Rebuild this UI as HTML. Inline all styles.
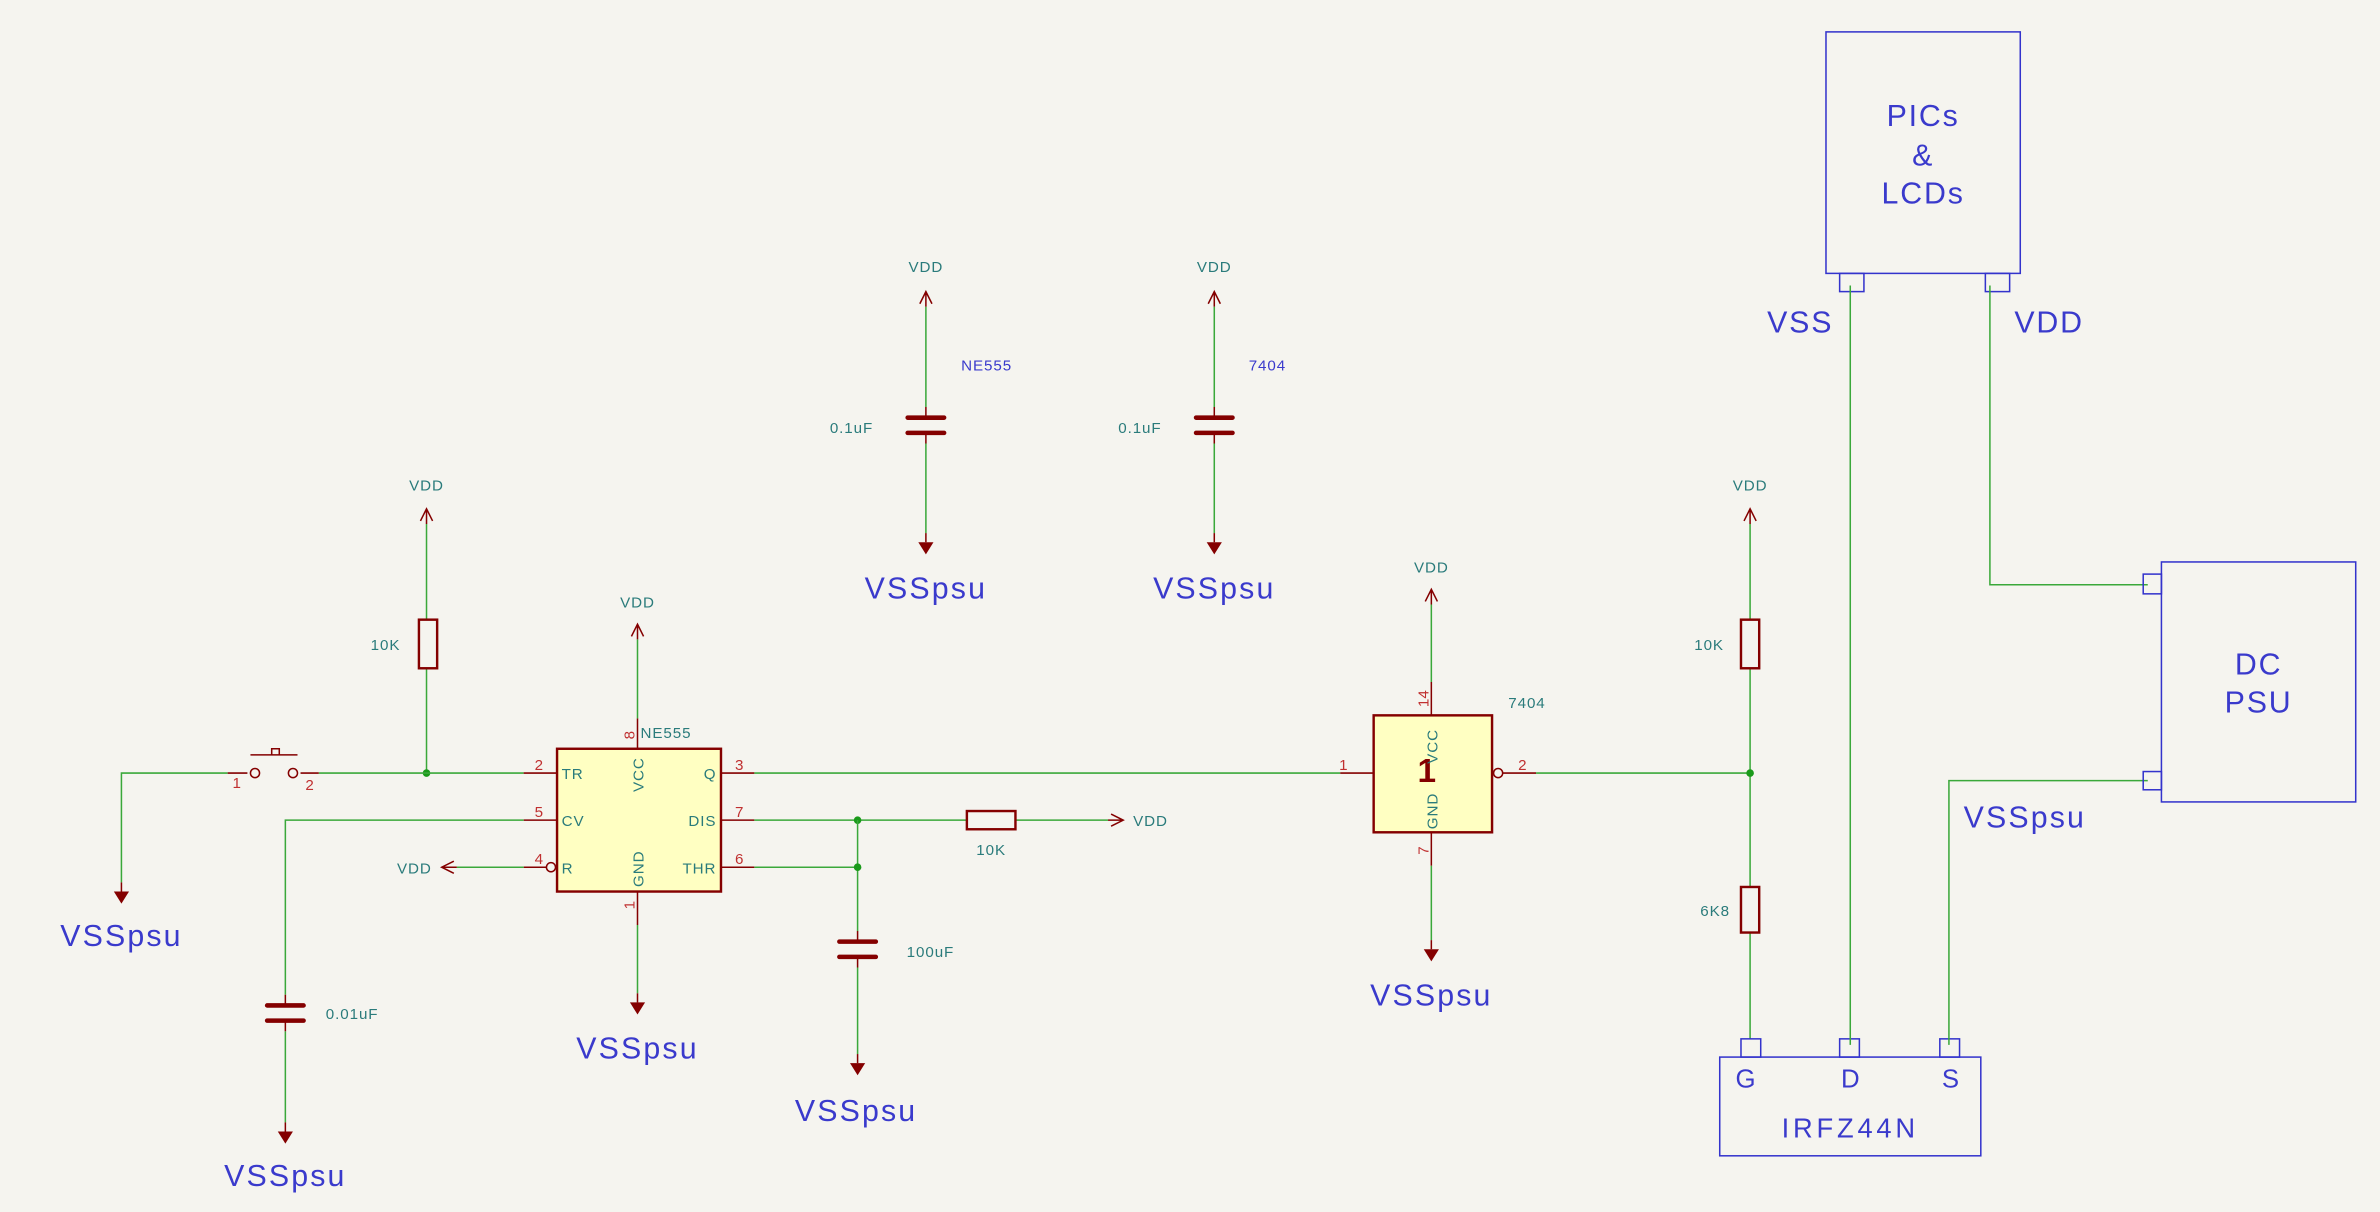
<!DOCTYPE html>
<html><head><meta charset="utf-8"><style>
html,body{margin:0;padding:0;background:#f5f4ef;}
svg{display:block}
text{font-family:"Liberation Sans",sans-serif;}
.w{stroke:#3aa83a;stroke-width:1;fill:none}
.r{stroke:#840000;stroke-width:1;fill:none}
.rb{stroke:#840000;stroke-width:1.6;fill:none}
.t{fill:#2a7b7b;font-size:10px;letter-spacing:0.6px}
.p{fill:#c03030;font-size:10px}
.v{fill:#3a3acc;font-size:20px;letter-spacing:1.4px}
.b{stroke:#3333cc;stroke-width:1;fill:none}
.bt{fill:#3a3acc;font-size:20px;letter-spacing:1.2px}
</style></head><body>
<svg width="2380" height="1212" viewBox="0 0 1568 798" preserveAspectRatio="none" xmlns="http://www.w3.org/2000/svg">
<rect width="1568" height="798" fill="#f5f4ef"/>
<defs>
<g id="up"><path class="r" d="M0,0 L0,10 M-4,8 L0,0 L4,8"/></g>
<g id="gnd"><path class="r" d="M0,-6 L0,0"/><polygon points="-5,0 5,0 0,8" fill="#840000"/></g>
</defs>

<text class="t" x="281" y="323" text-anchor="middle">VDD</text>
<use href="#up" x="281" y="335"/>
<path class="w" d="M281,345 V408 M281,440 V509"/>
<rect class="rb" x="276" y="408" width="12" height="32"/>
<text class="t" x="254" y="428" text-anchor="middle">10K</text>
<circle cx="281" cy="509" r="2.5" fill="#1a9a1a"/>

<path class="w" d="M80,581 V509 H150 M210,509 H345"/>
<path class="r" d="M150,509 H163 M198,509 H210 M165,497 H196 M179,497 V493 H184 V497"/>
<circle class="r" cx="168" cy="509" r="3"/><circle class="r" cx="193" cy="509" r="3"/>
<text class="p" x="156" y="519" text-anchor="middle">1</text>
<text class="p" x="204" y="520" text-anchor="middle">2</text>
<use href="#gnd" x="80" y="587"/>
<text class="v" x="80" y="623" text-anchor="middle">VSSpsu</text>

<rect x="367" y="493" width="108" height="94" fill="#ffffc2" stroke="#840000" stroke-width="1.6"/>
<path class="r" d="M345,509 H367 M345,540 H367 M345,571 H360 M475,509 H497 M475,540 H497 M475,571 H497 M420,473 V493 M420,587 V609"/>
<circle class="r" cx="363" cy="571" r="3"/>
<text class="t" x="370" y="513">TR</text>
<text class="t" x="370" y="544">CV</text>
<text class="t" x="370" y="575">R</text>
<text class="t" x="472" y="513" text-anchor="end">Q</text>
<text class="t" x="472" y="544" text-anchor="end">DIS</text>
<text class="t" x="472" y="575" text-anchor="end">THR</text>
<text class="t" transform="translate(424,510) rotate(-90)" text-anchor="middle">VCC</text>
<text class="t" transform="translate(424,572) rotate(-90)" text-anchor="middle">GND</text>
<text class="t" x="422" y="486">NE555</text>
<text class="p" x="355" y="507" text-anchor="middle">2</text>
<text class="p" x="355" y="538" text-anchor="middle">5</text>
<text class="p" x="355" y="569" text-anchor="middle">4</text>
<text class="p" x="487" y="507" text-anchor="middle">3</text>
<text class="p" x="487" y="538" text-anchor="middle">7</text>
<text class="p" x="487" y="569" text-anchor="middle">6</text>
<text class="p" transform="translate(418,484) rotate(-90)" text-anchor="middle">8</text>
<text class="p" transform="translate(418,596) rotate(-90)" text-anchor="middle">1</text>
<text class="t" x="420" y="400" text-anchor="middle">VDD</text>
<use href="#up" x="420" y="411"/>
<path class="w" d="M420,421 V473 M420,609 V654"/>
<use href="#gnd" x="420" y="660"/>
<text class="v" x="420" y="697" text-anchor="middle">VSSpsu</text>
<text class="t" x="273" y="575" text-anchor="middle">VDD</text>
<path class="r" d="M291,571 H301 M299,567 L291,571 L299,575"/>
<path class="w" d="M301,571 H345"/>
<path class="w" d="M345,540 H188 V655 M188,679 V739"/>
<path class="r" d="M188,655 V662 M188,672 V679"/>
<path d="M176,662 H200 M176,672 H200" stroke="#840000" stroke-width="3" stroke-linecap="round"/>
<text class="t" x="232" y="671" text-anchor="middle">0.01uF</text>
<use href="#gnd" x="188" y="745"/>
<text class="v" x="188" y="781" text-anchor="middle">VSSpsu</text>
<path class="w" d="M497,509 H883"/>
<path class="w" d="M497,540 H637 M669,540 H730"/>
<rect class="rb" x="637" y="534" width="32" height="12"/>
<path class="r" d="M730,540 H740 M732,536 L740,540 L732,544"/>
<text class="t" x="758" y="544" text-anchor="middle">VDD</text>
<text class="t" x="653" y="563" text-anchor="middle">10K</text>
<circle cx="565" cy="540" r="2.5" fill="#1a9a1a"/>
<path class="w" d="M497,571 H565 M565,540 V613 M565,637 V694"/>
<path class="r" d="M565,613 V620 M565,630 V637"/>
<path d="M553,620 H577 M553,630 H577" stroke="#840000" stroke-width="3" stroke-linecap="round"/>
<circle cx="565" cy="571" r="2.5" fill="#1a9a1a"/>
<text class="t" x="613" y="630" text-anchor="middle">100uF</text>
<use href="#gnd" x="565" y="700"/>
<text class="v" x="564" y="738" text-anchor="middle">VSSpsu</text>

<g>
<text class="t" x="610" y="179" text-anchor="middle">VDD</text>
<use href="#up" x="610" y="192"/>
<path class="w" d="M610,202 V268 M610,292 V351"/>
<path class="r" d="M610,268 V275 M610,285 V292"/>
<path d="M598,275 H622 M598,285 H622" stroke="#840000" stroke-width="3" stroke-linecap="round"/>
<use href="#gnd" x="610" y="357"/>
<text class="v" x="610" y="394" text-anchor="middle">VSSpsu</text>
<text class="t" x="561" y="285" text-anchor="middle">0.1uF</text>
<text x="650" y="244" text-anchor="middle" fill="#3a3acc" font-size="10" letter-spacing="0.6">NE555</text>
</g>
<g>
<text class="t" x="800" y="179" text-anchor="middle">VDD</text>
<use href="#up" x="800" y="192"/>
<path class="w" d="M800,202 V268 M800,292 V351"/>
<path class="r" d="M800,268 V275 M800,285 V292"/>
<path d="M788,275 H812 M788,285 H812" stroke="#840000" stroke-width="3" stroke-linecap="round"/>
<use href="#gnd" x="800" y="357"/>
<text class="v" x="800" y="394" text-anchor="middle">VSSpsu</text>
<text class="t" x="751" y="285" text-anchor="middle">0.1uF</text>
<text x="835" y="244" text-anchor="middle" fill="#3a3acc" font-size="10" letter-spacing="0.6">7404</text>
</g>

<rect x="905" y="471" width="78" height="77" fill="#ffffc2" stroke="#840000" stroke-width="1.6"/>
<path class="r" d="M883,509 H905 M990,509 H1012 M943,449 V471 M943,548 V570"/>
<circle class="r" cx="987" cy="509" r="3"/>
<text x="940" y="515" text-anchor="middle" fill="#840000" font-size="22" font-weight="bold">1</text>
<text class="t" transform="translate(947,480) rotate(-90)" text-anchor="end">VCC</text>
<text class="t" transform="translate(947,546) rotate(-90)">GND</text>
<text class="p" x="885" y="507" text-anchor="middle">1</text>
<text class="p" x="1003" y="507" text-anchor="middle">2</text>
<text class="p" transform="translate(941,460) rotate(-90)" text-anchor="middle">14</text>
<text class="p" transform="translate(941,560) rotate(-90)" text-anchor="middle">7</text>
<text class="t" x="1006" y="466" text-anchor="middle">7404</text>
<text class="t" x="943" y="377" text-anchor="middle">VDD</text>
<use href="#up" x="943" y="388"/>
<path class="w" d="M943,398 V449 M943,570 V619 M1012,509 H1153"/>
<use href="#gnd" x="943" y="625"/>
<text class="v" x="943" y="662" text-anchor="middle">VSSpsu</text>

<text class="t" x="1153" y="323" text-anchor="middle">VDD</text>
<use href="#up" x="1153" y="335"/>
<path class="w" d="M1153,345 V408 M1153,440 V584 M1153,614 V684"/>
<rect class="rb" x="1147" y="408" width="12" height="32"/>
<rect class="rb" x="1147" y="584" width="12" height="30"/>
<text class="t" x="1126" y="428" text-anchor="middle">10K</text>
<text class="t" x="1130" y="603" text-anchor="middle">6K8</text>
<circle cx="1153" cy="509" r="2.5" fill="#1a9a1a"/>

<rect class="b" x="1133" y="696" width="172" height="65"/>
<rect class="b" x="1147" y="684" width="13" height="12"/>
<rect class="b" x="1212" y="684" width="13" height="12"/>
<rect class="b" x="1278" y="684" width="13" height="12"/>
<text x="1150" y="716" text-anchor="middle" fill="#3a3acc" font-size="17">G</text>
<text x="1219" y="716" text-anchor="middle" fill="#3a3acc" font-size="17">D</text>
<text x="1285" y="716" text-anchor="middle" fill="#3a3acc" font-size="17">S</text>
<text x="1219" y="749" text-anchor="middle" fill="#3a3acc" font-size="18" letter-spacing="2.5">IRFZ44N</text>

<rect class="b" x="1203" y="21" width="128" height="159"/>
<rect class="b" x="1212" y="180" width="16" height="12"/>
<rect class="b" x="1308" y="180" width="16" height="12"/>
<text class="bt" x="1267" y="83" text-anchor="middle">PICs</text>
<text class="bt" x="1267" y="109" text-anchor="middle">&amp;</text>
<text class="bt" x="1267" y="134" text-anchor="middle">LCDs</text>
<text class="bt" x="1186" y="219" text-anchor="middle">VSS</text>
<text class="bt" x="1350" y="219" text-anchor="middle">VDD</text>
<path class="w" d="M1219,188 V688 M1311,188 V385 H1415 M1415,514 H1284 V688"/>

<rect class="b" x="1424" y="370" width="128" height="158"/>
<rect class="b" x="1412" y="378" width="12" height="13"/>
<rect class="b" x="1412" y="508" width="12" height="12"/>
<text class="bt" x="1488" y="444" text-anchor="middle">DC</text>
<text class="bt" x="1488" y="469" text-anchor="middle">PSU</text>
<text class="v" x="1334" y="545" text-anchor="middle">VSSpsu</text>
</svg>
</body></html>
